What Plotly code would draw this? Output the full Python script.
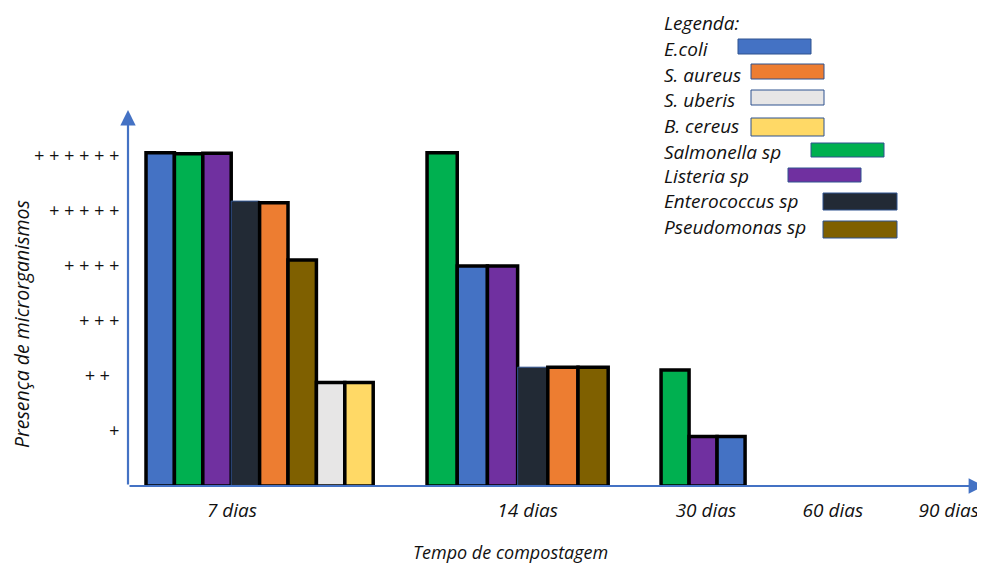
import plotly.graph_objects as go

# ---------------- data ----------------
species = ["E.coli", "S. aureus", "S. uberis", "B. cereus",
           "Salmonella sp", "Listeria sp", "Enterococcus sp", "Pseudomonas sp"]
colors = {
    "E.coli": "#4472C4",
    "S. aureus": "#ED7D31",
    "S. uberis": "#E7E6E6",
    "B. cereus": "#FFD966",
    "Salmonella sp": "#00B050",
    "Listeria sp": "#7030A0",
    "Enterococcus sp": "#222A35",
    "Pseudomonas sp": "#7F6000",
}

group_labels = ["7 dias", "14 dias", "30 dias"]
order_7 = ["E.coli", "Salmonella sp", "Listeria sp", "Enterococcus sp",
           "S. aureus", "Pseudomonas sp", "S. uberis", "B. cereus"]
values_7 = [6.06, 6.04, 6.05, 5.18, 5.15, 4.11, 1.88, 1.88]
order_14 = ["Salmonella sp", "E.coli", "Listeria sp", "Enterococcus sp",
            "S. aureus", "Pseudomonas sp"]
values_14 = [6.06, 4.0, 4.0, 2.16, 2.16, 2.16]
order_30 = ["Salmonella sp", "Listeria sp", "E.coli"]
values_30 = [2.11, 0.90, 0.90]

x_tick_labels = ["7 dias", "14 dias", "30 dias", "60 dias", "90 dias"]
y_tick_labels = ["+", "+ +\u00a0\u00a0", "+ + +", "+ + + +", "+ + + + +", "+ + + + + +"]
y_tick_levels = [1, 2, 3, 4, 5, 6]

# ---------------- layout constants ----------------
OFF = 8                 # default page body margin
W, H = 985 - OFF, 563 - OFF
ML, MR, MT, MB = 128 - OFF, 0, 110 - OFF, 77
PW, PH = W - ML - MR, H - MT - MB
UNIT_PX = 28.4          # pixels per x unit
LEVEL_PX = 55.0         # pixels per "+" level
XMAX = PW / UNIT_PX
YMAX = PH / LEVEL_PX

group_left = [0.634, 10.53, 18.77]      # left edge of each group (x units)
group_width = [1.0, 1.063, 0.986]        # bar width in each group
x_tick_pos = [3.66, 14.07, 20.35, 24.82, 28.9]

FONT = "'Open Sans', 'Noto Sans', sans-serif"
TXT = "#111111"


def px_x(p):
    """reference-page pixel x -> paper coordinate"""
    return (p - OFF - ML) / PW


def px_y(p):
    """reference-page pixel y -> paper coordinate"""
    return (H - MB - (p - OFF)) / PH


fig = go.Figure()
for gi, (order, vals) in enumerate([(order_7, values_7), (order_14, values_14), (order_30, values_30)]):
    w = group_width[gi]
    xs = [group_left[gi] + (i + 0.5) * w for i in range(len(order))]
    lc = ["#2F528F" if s == "Enterococcus sp" else "#000000" for s in order]
    lw = [1 if s == "Enterococcus sp" else 3.5 for s in order]
    fig.add_trace(go.Bar(
        x=xs, y=vals, width=[w] * len(order),
        marker=dict(color=[colors[s] for s in order], line=dict(color=lc, width=lw)),
        name=group_labels[gi], showlegend=False,
        hovertext=order, hoverinfo="text+y",
    ))

fig.update_layout(
    width=W, height=H,
    margin=dict(l=ML, r=MR, t=MT, b=MB, pad=0),
    paper_bgcolor="white", plot_bgcolor="white",
    barmode="overlay",
    showlegend=False,
    font=dict(family=FONT, color=TXT),
    xaxis=dict(range=[0, XMAX], tickvals=x_tick_pos, ticktext=x_tick_labels,
               showgrid=False, zeroline=False, showline=False, ticks="",
               tickfont=dict(size=19, style="italic", family=FONT, color=TXT),
               ticklabelstandoff=11),
    yaxis=dict(range=[0, YMAX], tickvals=y_tick_levels, ticktext=y_tick_labels,
               showgrid=False, zeroline=False, showline=False, ticks="",
               tickfont=dict(size=18, style="italic", family=FONT, color=TXT),
               ticklabelstandoff=8),
)

annotations = []
# axes drawn as arrows
annotations.append(dict(x=1, xref="paper", y=0, yref="y", ax=-PW, ay=0, axref="pixel", ayref="pixel",
                        text="", showarrow=True, arrowhead=2, arrowsize=1.4, arrowwidth=2.2,
                        arrowcolor="#4472C4"))
annotations.append(dict(x=0, xref="x", y=1, yref="paper", ax=0, ay=PH, axref="pixel", ayref="pixel",
                        text="", showarrow=True, arrowhead=2, arrowsize=1.4, arrowwidth=2.2,
                        arrowcolor="#4472C4"))
# axis titles
annotations.append(dict(x=px_x(21), y=px_y(324), xref="paper", yref="paper",
                        text="Presença de microrganismos", textangle=-90, showarrow=False,
                        font=dict(size=19.5, style="italic", family=FONT, color=TXT),
                        xanchor="center", yanchor="middle", borderpad=0))
annotations.append(dict(x=px_x(510), y=px_y(552), xref="paper", yref="paper",
                        text="Tempo de compostagem", showarrow=False,
                        font=dict(size=18, style="italic", family=FONT, color=TXT),
                        xanchor="center", yanchor="middle"))

# manual legend
legend_text_y = [48, 74, 99, 125, 151, 175, 200, 226]
legend_rects = {
    "E.coli": (738, 39, 811, 54),
    "S. aureus": (751, 64, 824, 79),
    "S. uberis": (751, 90, 824, 105),
    "B. cereus": (751, 118, 824, 136),
    "Salmonella sp": (811, 143, 884, 157),
    "Listeria sp": (788, 168, 861, 182),
    "Enterococcus sp": (823, 193, 897, 210),
    "Pseudomonas sp": (823, 221, 897, 238),
}
annotations.append(dict(x=px_x(662), y=px_y(23), xref="paper", yref="paper", text="Legenda:",
                        showarrow=False, xanchor="left", yanchor="middle",
                        font=dict(size=19, style="italic", family=FONT, color=TXT)))
shapes = []
for s, ty in zip(species, legend_text_y):
    annotations.append(dict(x=px_x(662), y=px_y(ty + 1), xref="paper", yref="paper", text=s,
                            showarrow=False, xanchor="left", yanchor="middle",
                            font=dict(size=19, style="italic", family=FONT, color=TXT)))
    x0, y0, x1, y1 = legend_rects[s]
    shapes.append(dict(type="rect", xref="paper", yref="paper",
                       x0=px_x(x0), x1=px_x(x1), y0=px_y(y1), y1=px_y(y0),
                       fillcolor=colors[s], line=dict(color="#2F528F", width=1)))

fig.update_layout(annotations=annotations, shapes=shapes)
fig.write_html("out.html")
